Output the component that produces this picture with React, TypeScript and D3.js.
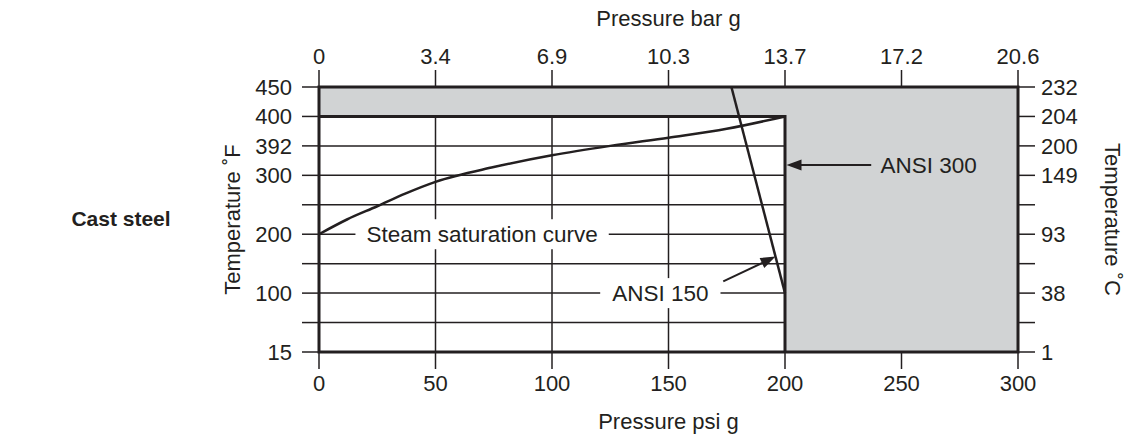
import React from "react";
import * as d3 from "d3";

// ---- data ----
const psiTicks = [0, 50, 100, 150, 200, 250, 300];
const barTickLabels = ["0", "3.4", "6.9", "10.3", "13.7", "17.2", "20.6"];
const fahrenheitLabels = ["450", "400", "392", "300", "", "200", "", "100", "", "15"];
const celsiusLabels = ["232", "204", "200", "149", "", "93", "", "38", "", "1"];
// steam saturation curve: pressure (psi g) vs temperature row index (0 = 450 °F ... 9 = 15 °F)
const steamPsi = [0, 12, 25, 37, 50, 75, 100, 125, 150, 175, 200];
const steamRow = [5.0, 4.5, 4.05, 3.62, 3.22, 2.72, 2.32, 2.0, 1.72, 1.42, 1.0];
// ANSI 150 limit line
const ansi150Psi = [177, 200];
const ansi150Row = [0, 7];
// ANSI 300 inner (white) area: 0..200 psi, 400 °F (row 1) down to 15 °F (row 9)
const ansi300MaxPsi = 200;
const ansi300TopRow = 1;
const chartMaxPsi = 300;
const rowCount = 10;
// annotations (data units)
const steamLabel = { text: "Steam saturation curve", psi: 70, row: 5 };
const ansi150Label = { text: "ANSI 150", psi: 146.5, row: 7 };
const ansi150ArrowTail = { psi: 173.5, row: 6.6 };
const ansi150ArrowTipRow = 5.76;
const ansi300Label = { text: "ANSI 300", psi: 241, row: 2.65 };
const ansi300ArrowTailPsi = 237;

const W = 1129;
const H = 438;
const M = { left: 319, right: 111, top: 87, bottom: 86 };
const INK = "#231f20";
const GRAY = "#d1d3d4";
const FONT = "'Liberation Sans', Arial, Helvetica, sans-serif";
const FS = 22;
const FS_NOTE = 22.5;

function arrowHead(x1: number, y1: number, x2: number, y2: number, len = 15, half = 5.5) {
  const a = Math.atan2(y2 - y1, x2 - x1);
  const bx = x2 - len * Math.cos(a);
  const by = y2 - len * Math.sin(a);
  const px = -Math.sin(a) * half;
  const py = Math.cos(a) * half;
  return `${x2},${y2} ${bx + px},${by + py} ${bx - px},${by - py}`;
}

export default function App() {
  const x = d3.scaleLinear().domain([0, chartMaxPsi]).range([M.left, W - M.right]);
  const y = d3.scaleLinear().domain([0, rowCount - 1]).range([M.top, H - M.bottom]);
  const rows = d3.range(rowCount);
  const tick = 17;

  const steamPts: [number, number][] = steamPsi.map((p, i) => [x(p), y(steamRow[i])]);
  const curve = d3.line().curve(d3.curveMonotoneX)(steamPts) || "";
  const a150 = d3.line()(ansi150Psi.map((p, i) => [x(p), y(ansi150Row[i])] as [number, number])) || "";

  // ANSI 150 arrow tip on the limit line
  const t = (ansi150ArrowTipRow - ansi150Row[0]) / (ansi150Row[1] - ansi150Row[0]);
  const tipPsi = ansi150Psi[0] + t * (ansi150Psi[1] - ansi150Psi[0]);
  const a1 = { x1: x(ansi150ArrowTail.psi), y1: y(ansi150ArrowTail.row), x2: x(tipPsi), y2: y(ansi150ArrowTipRow) };
  const a3 = { x1: x(ansi300ArrowTailPsi), y1: y(ansi300Label.row), x2: x(ansi300MaxPsi) + 1.5, y2: y(ansi300Label.row) };

  const shorten = (a: any, d: number) => {
    const ang = Math.atan2(a.y2 - a.y1, a.x2 - a.x1);
    return { x: a.x2 - d * Math.cos(ang), y: a.y2 - d * Math.sin(ang) };
  };
  const s1 = shorten(a1, 10);
  const s3 = shorten(a3, 10);

  const steamW = 10.28 * FS_NOTE;
  const a150W = 4.28 * FS_NOTE;

  return (
    <svg width={W} height={H} style={{ position: "absolute", left: 0, top: 0, background: "#fff" }} fontFamily={FONT}>
      {/* shaded full rating region */}
      <rect x={x(0)} y={y(0)} width={x(chartMaxPsi) - x(0)} height={y(rowCount - 1) - y(0)} fill={GRAY} />
      {/* ANSI 300 white region */}
      <rect x={x(0)} y={y(ansi300TopRow)} width={x(ansi300MaxPsi) - x(0)} height={y(rowCount - 1) - y(ansi300TopRow)} fill="#fff" />

      {/* grid */}
      {rows.filter((r) => r > ansi300TopRow && r < rowCount - 1).map((r) => (
        <line key={"h" + r} x1={x(0)} x2={x(ansi300MaxPsi)} y1={y(r)} y2={y(r)} stroke={INK} strokeWidth={1.5} />
      ))}
      {psiTicks.filter((p) => p > 0 && p < ansi300MaxPsi).map((p) => (
        <line key={"v" + p} x1={x(p)} x2={x(p)} y1={y(ansi300TopRow)} y2={y(rowCount - 1)} stroke={INK} strokeWidth={1.5} />
      ))}

      {/* ticks */}
      {psiTicks.map((p) => (
        <g key={"pt" + p}>
          <line x1={x(p)} x2={x(p)} y1={y(0) - tick} y2={y(0)} stroke={INK} strokeWidth={1.5} />
          <line x1={x(p)} x2={x(p)} y1={y(rowCount - 1)} y2={y(rowCount - 1) + tick} stroke={INK} strokeWidth={1.5} />
        </g>
      ))}
      {rows.map((r) => (
        <g key={"rt" + r}>
          <line x1={x(0) - tick} x2={x(0)} y1={y(r)} y2={y(r)} stroke={INK} strokeWidth={1.5} />
          <line x1={x(chartMaxPsi)} x2={x(chartMaxPsi) + tick} y1={y(r)} y2={y(r)} stroke={INK} strokeWidth={1.5} />
        </g>
      ))}

      {/* label backgrounds */}
      <rect x={x(steamLabel.psi) - steamW / 2 - 11} y={y(steamLabel.row) - 15} width={steamW + 22} height={30} fill="#fff" />
      <rect x={x(ansi150Label.psi) - a150W / 2 - 12} y={y(ansi150Label.row) - 15} width={a150W + 24} height={30} fill="#fff" />

      {/* borders */}
      <rect x={x(0)} y={y(0)} width={x(chartMaxPsi) - x(0)} height={y(rowCount - 1) - y(0)} fill="none" stroke={INK} strokeWidth={3} />
      <polyline
        points={`${x(0)},${y(ansi300TopRow)} ${x(ansi300MaxPsi)},${y(ansi300TopRow)} ${x(ansi300MaxPsi)},${y(rowCount - 1)}`}
        fill="none" stroke={INK} strokeWidth={3} />

      {/* curves */}
      <path d={curve} fill="none" stroke={INK} strokeWidth={2.5} />
      <path d={a150} fill="none" stroke={INK} strokeWidth={2.5} />

      {/* arrows */}
      <line x1={a1.x1} y1={a1.y1} x2={s1.x} y2={s1.y} stroke={INK} strokeWidth={2} />
      <polygon points={arrowHead(a1.x1, a1.y1, a1.x2, a1.y2)} fill={INK} />
      <line x1={a3.x1} y1={a3.y1} x2={s3.x} y2={s3.y} stroke={INK} strokeWidth={2} />
      <polygon points={arrowHead(a3.x1, a3.y1, a3.x2, a3.y2)} fill={INK} />

      {/* annotation text */}
      <text x={x(steamLabel.psi)} y={y(steamLabel.row)} dy="0.35em" textAnchor="middle" fontSize={FS_NOTE} fill={INK}>{steamLabel.text}</text>
      <text x={x(ansi150Label.psi)} y={y(ansi150Label.row)} dy="0.35em" textAnchor="middle" fontSize={FS_NOTE} fill={INK}>{ansi150Label.text}</text>
      <text x={x(ansi300Label.psi)} y={y(ansi300Label.row)} dy="0.35em" textAnchor="start" fontSize={FS_NOTE} fill={INK}>{ansi300Label.text}</text>

      {/* tick labels */}
      {psiTicks.map((p, i) => (
        <g key={"pl" + p}>
          <text x={x(p)} y={y(0) - 31} dy="0.35em" textAnchor="middle" fontSize={FS} fill={INK}>{barTickLabels[i]}</text>
          <text x={x(p)} y={y(rowCount - 1) + 31} dy="0.35em" textAnchor="middle" fontSize={FS} fill={INK}>{p}</text>
        </g>
      ))}
      {rows.map((r) => (
        <g key={"rl" + r}>
          <text x={x(0) - 27} y={y(r)} dy="0.35em" textAnchor="end" fontSize={FS} fill={INK}>{fahrenheitLabels[r]}</text>
          <text x={x(chartMaxPsi) + 23} y={y(r)} dy="0.35em" textAnchor="start" fontSize={FS} fill={INK}>{celsiusLabels[r]}</text>
        </g>
      ))}

      {/* axis titles */}
      <text x={(x(0) + x(chartMaxPsi)) / 2} y={18} dy="0.35em" textAnchor="middle" fontSize={FS} fill={INK}>Pressure bar g</text>
      <text x={(x(0) + x(chartMaxPsi)) / 2} y={421} dy="0.35em" textAnchor="middle" fontSize={FS} fill={INK}>Pressure psi g</text>
      <text transform={`translate(232,${(y(0) + y(rowCount - 1)) / 2}) rotate(-90)`} dy="0.35em" textAnchor="middle" fontSize={FS} fill={INK}>Temperature ˚F</text>
      <text transform={`translate(1113,${(y(0) + y(rowCount - 1)) / 2}) rotate(90)`} dy="0.35em" textAnchor="middle" fontSize={FS} fill={INK}>Temperature ˚C</text>

      <text x={121} y={219} dy="0.35em" textAnchor="middle" fontSize={21} fontWeight="bold" fill={INK}>Cast steel</text>
    </svg>
  );
}
